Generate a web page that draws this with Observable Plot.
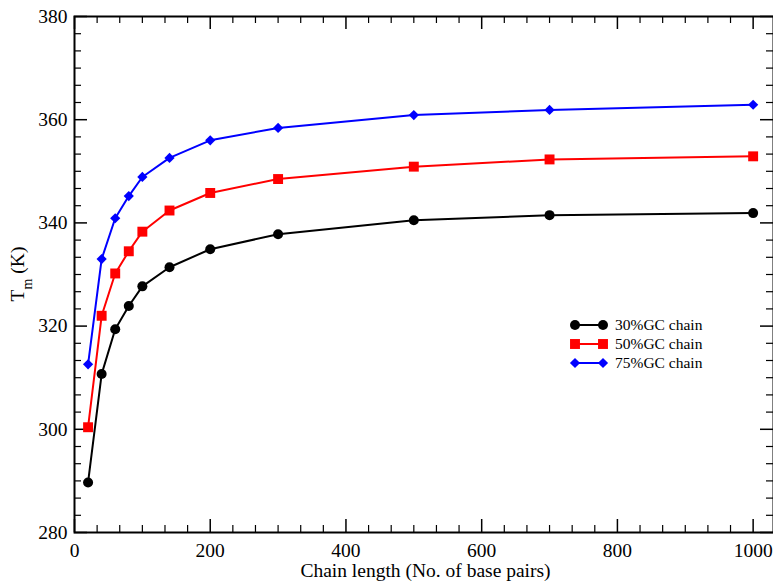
<!DOCTYPE html>
<html><head><meta charset="utf-8">
<script src="https://cdn.jsdelivr.net/npm/d3@7"></script>
<script src="https://cdn.jsdelivr.net/npm/@observablehq/plot@0.6"></script>
<style>body{margin:0;background:#fff} svg{display:block}</style>
</head><body><div id="chart"></div>
<script>
const chainLength = [20, 40, 60, 80, 100, 140, 200, 300, 500, 700, 1000];
const gc30 = [289.7, 310.7, 319.4, 323.9, 327.7, 331.4, 334.9, 337.8, 340.5, 341.5, 341.9];
const gc50 = [300.4, 322.0, 330.2, 334.5, 338.3, 342.4, 345.8, 348.5, 350.9, 352.3, 352.9];
const gc75 = [312.6, 333.0, 340.9, 345.2, 348.9, 352.6, 356.0, 358.4, 360.9, 361.9, 362.9];
const seriesNames = ["30%GC chain", "50%GC chain", "75%GC chain"];
const seriesColors = ["#000000", "#ff0000", "#0000ff"];
const seriesSymbols = ["circle", "square", "diamond2"];
const seriesR = [5, 5.6, 4.6];
const xTickValues = [0, 200, 400, 600, 800, 1000];
const yTickValues = [280, 300, 320, 340, 360, 380];
const xLabel = "Chain length (No. of base pairs)";

const xMinor = d3.range(0, 31).map(k => k * 200 / 6).filter(v => !xTickValues.some(t => Math.abs(t - v) < 1e-6));
const yMinor = d3.range(0, 31).map(k => 280 + k * 20 / 6).filter(v => !yTickValues.some(t => Math.abs(t - v) < 1e-6));

const allSeries = [gc30, gc50, gc75];
const data = allSeries.flatMap((vals, i) => chainLength.map((x, j) => ({x, y: vals[j], series: seriesNames[i]})));

const W = 773, H = 583, mL = 74, mR = 0, mT = 16, mB = 51;
const innerW = W - mL - mR, innerH = H - mT - mB;
const FONT = "'Liberation Serif', 'Times New Roman', serif";
const MAJ = 13, MIN = 7;

const marks = [
  Plot.axisX({ticks: xTickValues, tickSize: 0, tickPadding: 11, tickFormat: d => String(d), label: null, fontSize: 19.5}),
  Plot.axisY({ticks: yTickValues, tickSize: 0, tickPadding: 7, tickFormat: d => String(d), label: null, fontSize: 19.5}),
  Plot.tickX(xTickValues, {x: d => d, insetTop: innerH - MAJ, stroke: "black", strokeWidth: 1.5}),
  Plot.tickX(xTickValues, {x: d => d, insetBottom: innerH - MAJ, stroke: "black", strokeWidth: 1.5}),
  Plot.tickX(xMinor, {x: d => d, insetTop: innerH - MIN, stroke: "black", strokeWidth: 1.2}),
  Plot.tickX(xMinor, {x: d => d, insetBottom: innerH - MIN, stroke: "black", strokeWidth: 1.2}),
  Plot.tickY(yTickValues, {y: d => d, insetRight: innerW - MAJ, stroke: "black", strokeWidth: 1.5}),
  Plot.tickY(yTickValues, {y: d => d, insetLeft: innerW - MAJ, stroke: "black", strokeWidth: 1.5}),
  Plot.tickY(yMinor, {y: d => d, insetRight: innerW - MIN, stroke: "black", strokeWidth: 1.2}),
  Plot.tickY(yMinor, {y: d => d, insetLeft: innerW - MIN, stroke: "black", strokeWidth: 1.2}),
];
seriesNames.forEach((name, i) => {
  const d = data.filter(p => p.series === name);
  marks.push(Plot.line(d, {x: "x", y: "y", stroke: seriesColors[i], strokeWidth: 2}));
  marks.push(Plot.dot(d, {x: "x", y: "y", fill: seriesColors[i], stroke: "none", symbol: () => seriesSymbols[i], r: seriesR[i]}));
});
marks.push(Plot.frame({stroke: "black", strokeWidth: 2}));

const plot = Plot.plot({
  width: W, height: H, marginLeft: mL, marginRight: mR, marginTop: mT, marginBottom: mB,
  style: {fontFamily: FONT, fontSize: "19.5px", color: "black", background: "white", overflow: "visible"},
  x: {domain: [0, 1030], label: null},
  y: {domain: [280, 380], label: null},
  symbol: {domain: seriesSymbols, range: seriesSymbols},
  marks
});
document.getElementById("chart").appendChild(plot);

const svg = d3.select(plot);
svg.append("text").attr("x", mL + innerW / 2 + 2).attr("y", 577)
  .attr("text-anchor", "middle").style("font-family", FONT).style("font-size", "19.5px").attr("fill", "black")
  .text(xLabel);
const yl = svg.append("text").attr("transform", `translate(23.5,${mT + innerH / 2}) rotate(-90)`)
  .attr("text-anchor", "middle").style("font-family", FONT).style("font-size", "19.5px").attr("fill", "black");
yl.append("tspan").text("T");
yl.append("tspan").attr("dy", 8).style("font-size", "14px").text("m");
yl.append("tspan").attr("dy", -8).text(" (K)");

const lg = svg.append("g");
const rowsY = [325, 344, 363];
seriesNames.forEach((name, i) => {
  const y = rowsY[i];
  lg.append("line").attr("x1", 575).attr("x2", 603).attr("y1", y).attr("y2", y)
    .attr("stroke", seriesColors[i]).attr("stroke-width", 2);
  const sym = {circle: d3.symbolCircle, square: d3.symbolSquare, diamond2: d3.symbolDiamond2}[seriesSymbols[i]];
  const path = d3.symbol(sym, Math.PI * seriesR[i] * seriesR[i])();
  [575, 603].forEach(x => lg.append("path").attr("d", path).attr("transform", `translate(${x},${y})`).attr("fill", seriesColors[i]));
  lg.append("text").attr("x", 615).attr("y", y).attr("dy", "0.35em").attr("text-anchor", "start")
    .style("font-family", FONT).style("font-size", "15.5px").attr("fill", "black").text(name);
});
</script>
</body></html>
